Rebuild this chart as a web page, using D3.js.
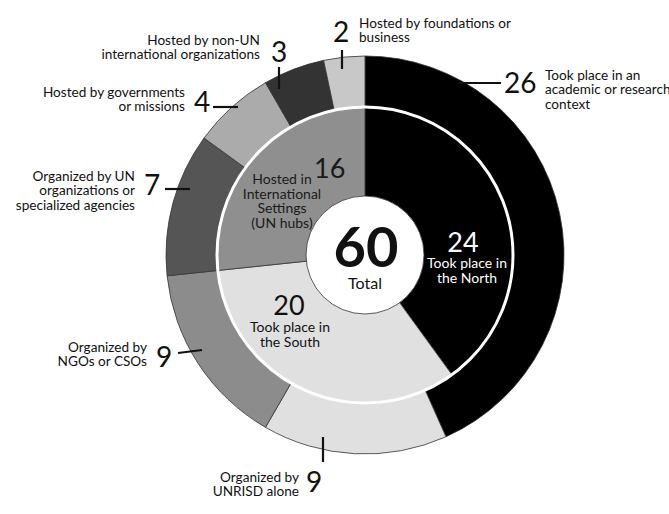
<!DOCTYPE html>
<html>
<head>
<meta charset="utf-8">
<script src="https://cdn.jsdelivr.net/npm/d3@7"></script>
<style>
  html, body { margin: 0; padding: 0; background: #fff; }
  svg { display: block; font-family: "Lato", "Open Sans", sans-serif; }
</style>
</head>
<body>
<svg id="chart" width="669" height="514"></svg>
<script>
// ---------- data ----------
const outerCategories = [
  "Took place in an academic or research context",
  "Organized by UNRISD alone",
  "Organized by NGOs or CSOs",
  "Organized by UN organizations or specialized agencies",
  "Hosted by governments or missions",
  "Hosted by non-UN international organizations",
  "Hosted by foundations or business"
];
const outerValues = [26, 9, 9, 7, 4, 3, 2];
const outerLabelLines = [
  ["Took place in an", "academic or research", "context"],
  ["Organized by", "UNRISD alone"],
  ["Organized by", "NGOs or CSOs"],
  ["Organized by UN", "organizations or", "specialized agencies"],
  ["Hosted by governments", "or missions"],
  ["Hosted by non-UN", "international organizations"],
  ["Hosted by foundations or", "business"]
];
const innerCategories = ["Took place in the North", "Took place in the South", "Hosted in International Settings (UN hubs)"];
const innerValues = [24, 20, 16];
const innerLabelLines = [
  ["Took place in", "the North"],
  ["Took place in", "the South"],
  ["Hosted in", "International", "Settings", "(UN hubs)"]
];
const totalValue = 60;
const totalLabel = "Total";

// ---------- styles / layout ----------
const outerColors = ["#000000", "#e0e0e0", "#8c8c8c", "#555555", "#ababab", "#333333", "#c8c8c8"];
const innerColors = ["#000000", "#e0e0e0", "#8f8f8f"];
const innerTextColors = ["#ffffff", "#111111", "#1a1a1a"];

const cx = 365, cy = 255;
const rOuter = 199, rMid = 148, rHole = 59;

// annotation layout for outer labels (number, text block, leader tick)
const outerLayout = [
  { num: [504, 93, "start"], text: [545, 80, "start"], tick: [[458, 83], [501, 83]] },
  { num: [306, 492, "start"], text: [299, 482, "end"], tick: [[323, 437], [323, 462]] },
  { num: [156, 367, "start"], text: [147, 352, "end"], tick: [[178, 353], [202, 350]] },
  { num: [144, 195, "start"], text: [135, 181, "end"], tick: [[165, 189], [190, 189]] },
  { num: [194, 112, "start"], text: [185, 97, "end"], tick: [[213, 107], [238, 107]] },
  { num: [279, 62, "middle"], text: [260, 45, "end"], tick: [[279, 67], [279, 89]] },
  { num: [341, 42, "middle"], text: [359, 28, "start"], tick: [[342, 50], [342, 69]] }
];
const innerLayout = [
  { num: [463, 252, "middle"], text: [467, 268, "middle"] },
  { num: [289, 315, "middle"], text: [290, 332, "middle"] },
  { num: [314, 178, "start"], text: [282, 184, "middle"] }
];

// ---------- drawing ----------
const svg = d3.select("#chart");
const g = svg.append("g").attr("transform", `translate(${cx},${cy})`);

const pie = d3.pie().sort(null).value(d => d).startAngle(0).endAngle(2 * Math.PI);

const innerArc = d3.arc().innerRadius(0).outerRadius(rMid);
const outerArc = d3.arc().innerRadius(rMid).outerRadius(rOuter);

g.selectAll("path.inner")
  .data(pie(innerValues))
  .join("path")
  .attr("class", "inner")
  .attr("d", innerArc)
  .attr("fill", (d, i) => innerColors[i])
  .attr("stroke", "#333")
  .attr("stroke-width", 0.8);

g.selectAll("path.outer")
  .data(pie(outerValues))
  .join("path")
  .attr("class", "outer")
  .attr("d", outerArc)
  .attr("fill", (d, i) => outerColors[i])
  .attr("stroke", "#333")
  .attr("stroke-width", 0.8);

// white separator ring
g.append("circle").attr("r", rMid).attr("fill", "none")
  .attr("stroke", "#fff").attr("stroke-width", 3);

// center hole
g.append("circle").attr("r", rHole).attr("fill", "#fff")
  .attr("stroke", "#333").attr("stroke-width", 0.8);

// center total
svg.append("text").attr("x", 366).attr("y", 267).attr("text-anchor", "middle")
  .attr("font-size", 56).attr("font-weight", 700).attr("fill", "#111").text(totalValue);
svg.append("text").attr("x", 365).attr("y", 289).attr("text-anchor", "middle")
  .attr("font-size", 16).attr("fill", "#111").text(totalLabel);

// inner labels
innerValues.forEach((v, i) => {
  const L = innerLayout[i];
  svg.append("text").attr("x", L.num[0]).attr("y", L.num[1]).attr("text-anchor", L.num[2])
    .attr("font-size", 27).attr("fill", innerTextColors[i]).text(v);
  const t = svg.append("text").attr("x", L.text[0]).attr("y", L.text[1]).attr("text-anchor", L.text[2])
    .attr("font-size", 14).attr("fill", innerTextColors[i]);
  innerLabelLines[i].forEach((line, j) => {
    t.append("tspan").attr("x", L.text[0]).attr("dy", j === 0 ? 0 : 14.7).text(line);
  });
});

// outer labels
outerValues.forEach((v, i) => {
  const L = outerLayout[i];
  svg.append("line")
    .attr("x1", L.tick[0][0]).attr("y1", L.tick[0][1])
    .attr("x2", L.tick[1][0]).attr("y2", L.tick[1][1])
    .attr("stroke", "#111").attr("stroke-width", 2.2);
  svg.append("text").attr("x", L.num[0]).attr("y", L.num[1]).attr("text-anchor", L.num[2])
    .attr("font-size", 28).attr("fill", "#111").text(v);
  const t = svg.append("text").attr("x", L.text[0]).attr("y", L.text[1]).attr("text-anchor", L.text[2])
    .attr("font-size", 13.6).attr("fill", "#111");
  outerLabelLines[i].forEach((line, j) => {
    t.append("tspan").attr("x", L.text[0]).attr("dy", j === 0 ? 0 : 14.3).text(line);
  });
});
</script>
</body>
</html>
